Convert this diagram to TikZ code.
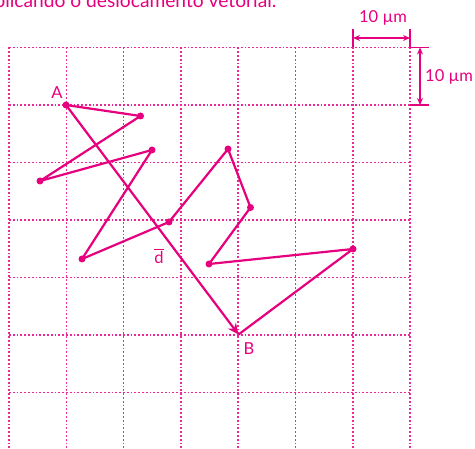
\documentclass[tikz,border=0pt]{standalone}
\usepackage{fontspec}
\setmainfont{Lato}
\usetikzlibrary{arrows.meta}
\definecolor{mag}{RGB}{230,0,126}
\definecolor{gridmag}{RGB}{236,40,150}
\tikzset{
  gridline/.style={gridmag, line width=1.6pt, dash pattern=on 1.8pt off 2pt},
  walk/.style={mag, line width=2.2pt, line join=round},
  pt/.style={circle, fill=mag, inner sep=0pt, minimum size=7pt},
  lbl/.style={text=mag, font=\fontsize{16.5}{18}\selectfont, inner sep=0pt},
  caplbl/.style={text=mag, font=\fontsize{19.2}{22}\selectfont, inner sep=0pt},
  dim/.style={mag, line width=1.6pt},
}
\begin{document}
\begin{tikzpicture}[x=1pt,y=-1pt]
\useasboundingbox (0,0) rectangle (475,449);
\clip (0,0) rectangle (475,449);
% partial caption (cut off at the top edge, as in the reference)
\node[caplbl, anchor=base east] (cap) at (276.5,7.5) {plicando o deslocamento vetorial.};
% grid
\foreach \i in {0,...,7} {
  \draw[gridline] (9+\i*57.3,47.5) -- (9+\i*57.3,449);
}
\foreach \j in {0,...,6} {
  \draw[gridline] (9,47.5+\j*57.5) -- (410,47.5+\j*57.5);
}
% dimension markers
\coordinate (h1) at (353,38);
\coordinate (h2) at (410,38);
\draw[dim] (353,29) -- (353,47.5);
\draw[dim] (410,29) -- (410,47.5);
\draw[dim, {Stealth[length=7pt,width=6pt]}-{Stealth[length=7pt,width=6pt]}] (h1) -- (h2);
\node[lbl] (hl) at (383,18) {10 µm};
\coordinate (v1) at (420,47.5);
\coordinate (v2) at (420,105);
\draw[dim] (410,47.5) -- (429,47.5);
\draw[dim] (410,105) -- (429,105);
\draw[dim, {Stealth[length=7pt,width=6pt]}-{Stealth[length=7pt,width=6pt]}] (v1) -- (v2);
\node[lbl, anchor=west] (vl) at (425,77) {10 µm};
% points
\node[pt] (A) at (66,105) {};
\node[pt] (p1) at (140.5,116) {};
\node[pt] (p2) at (40,181) {};
\node[pt] (p3) at (152,150) {};
\node[pt] (p4) at (82,259) {};
\node[pt] (p5) at (169,222) {};
\node[pt] (p6) at (228,149) {};
\node[pt] (p7) at (250.5,207.5) {};
\node[pt] (p8) at (209,264) {};
\node[pt] (p9) at (353,249) {};
\coordinate (B) at (238.5,334.5);
\draw[walk] (A.center) -- (p1.center) -- (p2.center) -- (p3.center) -- (p4.center) -- (p5.center) -- (p6.center) -- (p7.center) -- (p8.center) -- (p9.center) -- (B);
\draw[walk, -{Stealth[length=11pt,width=10pt]}] (A.center) -- (B);
% labels
\node[lbl] (la) at (57,93) {A};
\node[lbl] (lb) at (249,349) {B};
\node[lbl] (ld) at (159,256) {$\overline{\mbox{d}}$};
\end{tikzpicture}
\end{document}
